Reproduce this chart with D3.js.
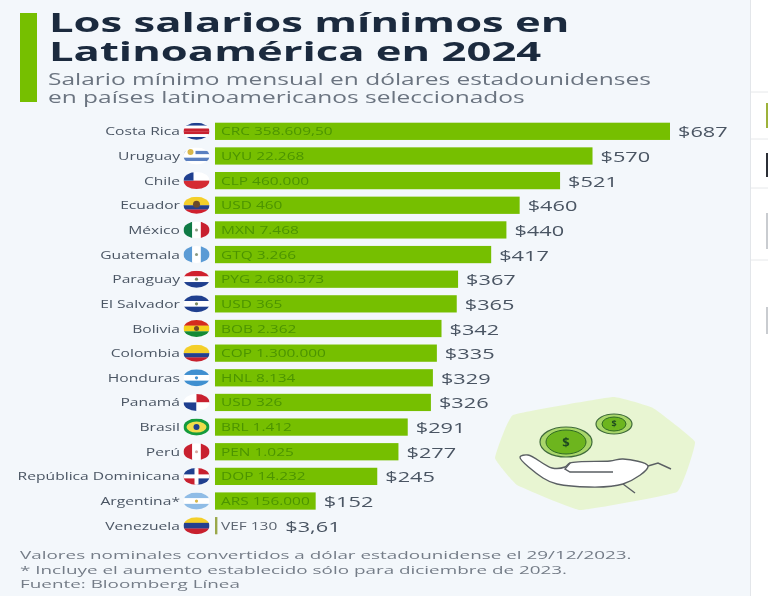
<!DOCTYPE html>
<html lang="es">
<head>
<meta charset="UTF-8">
<title>Los salarios mínimos en Latinoamérica en 2024</title>
<script src="https://d3js.org/d3.v7.min.js"></script>
<style>
  html, body { margin: 0; padding: 0; background: #f3f7fb; overflow: hidden; }
  svg { display: block; font-family: 'Open Sans', sans-serif; filter: blur(0.45px); }
</style>
</head>
<body>
<svg id="chart" width="768" height="596"></svg>
<script>
// --- Data ---
const countries = ["Costa Rica", "Uruguay", "Chile", "Ecuador", "México", "Guatemala", "Paraguay", "El Salvador", "Bolivia", "Colombia", "Honduras", "Panamá", "Brasil", "Perú", "República Dominicana", "Argentina*", "Venezuela"];
const salaries = [687, 570, 521, 460, 440, 417, 367, 365, 342, 335, 329, 326, 291, 277, 245, 152, 3.61];
const valueLabels = ["$687", "$570", "$521", "$460", "$440", "$417", "$367", "$365", "$342", "$335", "$329", "$326", "$291", "$277", "$245", "$152", "$3,61"];
const localPay = ["CRC 358.609,50", "UYU 22.268", "CLP 460.000", "USD 460", "MXN 7.468", "GTQ 3.266", "PYG 2.680.373", "USD 365", "BOB 2.362", "COP 1.300.000", "HNL 8.134", "USD 326", "BRL 1.412", "PEN 1.025", "DOP 14.232", "ARS 156.000", "VEF 130"];
const titleLines = ["Los salarios mínimos en", "Latinoamérica en 2024"];
const subtitleLines = ["Salario mínimo mensual en dólares estadounidenses", "en países latinoamericanos seleccionados"];
const notes = ["Valores nominales convertidos a dólar estadounidense el 29/12/2023.", "* Incluye el aumento establecido sólo para diciembre de 2023.", "Fuente: Bloomberg Línea"];

// --- Layout ---
const GREEN = "#76bf00";
const svg = d3.select("#chart");
const x = d3.scaleLinear().domain([0, 687]).range([215, 670]);
const y = d3.scaleBand().domain(countries).range([119, 538]).paddingInner(0.3).paddingOuter(0.15);

// the source image is stretched sideways, so every text gets its own horizontal scale
function wideText(parent, tx, ty, str, size, stretch, weight, fill, anchor) {
  return parent.append("text")
    .attr("transform", `translate(${tx},${ty}) scale(${stretch},1)`)
    .attr("font-size", size).attr("font-weight", weight)
    .attr("fill", fill).attr("text-anchor", anchor || "start")
    .text(str);
}

// side column of the page the chart was cropped from
svg.append("rect").attr("x", 751).attr("y", 0).attr("width", 17).attr("height", 596).attr("fill", "#ffffff");
svg.append("line").attr("x1", 750.5).attr("x2", 750.5).attr("y1", 0).attr("y2", 596).attr("stroke", "#e3e6ea");
[92, 139, 188, 260].forEach(d => svg.append("line").attr("x1", 751).attr("x2", 768).attr("y1", d).attr("y2", d).attr("stroke", "#e6e8ea"));
[[103, 25, "#9db23a"], [153, 24, "#2b2f36"], [213, 36, "#c9ccd0"], [307, 27, "#c9ccd0"]].forEach(d =>
  svg.append("rect").attr("x", 766).attr("y", d[0]).attr("width", 2).attr("height", d[1]).attr("fill", d[2]));

// --- Header ---
svg.append("rect").attr("x", 20).attr("y", 13).attr("width", 17).attr("height", 89).attr("fill", GREEN);
titleLines.forEach((t, i) => wideText(svg, 49, 32 + i * 29, t, 27, 1.615, 700, "#1b2a3e"));
subtitleLines.forEach((t, i) => wideText(svg, 48, 85 + i * 18, t, 15.5, 1.58, 400, "#6b7480"));

// --- Rows ---
const rows = svg.selectAll("g.row").data(countries).join("g").attr("class", "row");
const midY = d => y(d) + y.bandwidth() / 2;

rows.append("rect")
  .attr("x", x(0)).attr("y", d => y(d))
  .attr("width", (d, i) => x(salaries[i]) - x(0))
  .attr("height", y.bandwidth())
  .attr("fill", (d, i) => i === 16 ? "#9aa84a" : GREEN);

rows.each(function (d, i) {
  const g = d3.select(this);
  wideText(g, 180, midY(d) + 4, d, 10.5, 1.49, 400, "#4a5563", "end");
  const inner = wideText(g, 221, midY(d) + 4, localPay[i], 10, 1.545, 400, i === 16 ? "#5b6470" : "#4c9400");
  const innerEnd = 221 + inner.node().getBBox().width * 1.545;
  const labelX = Math.max(x(salaries[i]), innerEnd) + 8;
  wideText(g, labelX, midY(d) + 6, valueLabels[i], 14.5, 1.5, 400, "#4a5563");
});

// --- Flags: stripes across an ellipse, extras on top ---
const flagStripes = {
  "Costa Rica": ["#1f3f8f", "#fff", "#c8202f", "#c8202f", "#fff", "#1f3f8f"],
  "Uruguay": ["#fff", "#5a7fc0", "#fff", "#5a7fc0", "#fff"],
  "Chile": ["#fff", "#d52b32"],
  "Ecuador": ["#f4cf2a", "#f4cf2a", "#24408e", "#d0202e"],
  "Guatemala": [],
  "México": [],
  "Paraguay": ["#d0202e", "#fff", "#1f3f8f"],
  "El Salvador": ["#1f3f8f", "#fff", "#1f3f8f"],
  "Bolivia": ["#d52b1e", "#f4d11a", "#138a36"],
  "Colombia": ["#f4cf2a", "#f4cf2a", "#24408e", "#c8202e"],
  "Honduras": ["#3f8fd0", "#fff", "#3f8fd0"],
  "Panamá": [],
  "Brasil": ["#149b3c"],
  "Perú": [],
  "República Dominicana": [],
  "Argentina*": ["#8fbce6", "#fff", "#8fbce6"],
  "Venezuela": ["#f4cf2a", "#24408e", "#c8202e"]
};
const flagColumns = { "México": ["#0f7a45", "#fff", "#c8202f"], "Guatemala": ["#5b9bd5", "#fff", "#5b9bd5"], "Perú": ["#c8202f", "#fff", "#c8202f"] };
const flagQuarters = { "Panamá": ["#fff", "#c8202f", "#1f3f8f", "#fff"], "República Dominicana": ["#1f3f8f", "#c8202f", "#c8202f", "#1f3f8f"] };
const flagW = 26, flagH = 17, flagCx = 196.5;

const defs = svg.append("defs");
const flags = svg.selectAll("g.flag").data(countries).join("g").attr("class", "flag")
  .attr("transform", d => `translate(${flagCx},${midY(d)})`);
defs.append("clipPath").attr("id", "flag-clip").append("ellipse").attr("rx", flagW / 2).attr("ry", flagH / 2);

flags.each(function (name) {
  const g = d3.select(this).append("g").attr("clip-path", "url(#flag-clip)");
  const stripes = flagStripes[name], cols = flagColumns[name], quarters = flagQuarters[name];
  if (stripes.length) {
    const band = d3.scaleBand().domain(d3.range(stripes.length)).range([-flagH / 2, flagH / 2]);
    stripes.forEach((c, i) => g.append("rect").attr("x", -flagW / 2).attr("y", band(i)).attr("width", flagW).attr("height", band.bandwidth() + 0.2).attr("fill", c));
  }
  if (cols) {
    const band = d3.scaleBand().domain(d3.range(3)).range([-flagW / 2, flagW / 2]);
    cols.forEach((c, i) => g.append("rect").attr("x", band(i)).attr("y", -flagH / 2).attr("width", band.bandwidth() + 0.2).attr("height", flagH).attr("fill", c));
    g.append("circle").attr("r", 1.5).attr("fill", name === "Perú" ? "#d9a9a0" : "#8a9a80");
  }
  if (quarters) {
    [[-1, -1], [0, -1], [-1, 0], [0, 0]].forEach((q, i) => g.append("rect").attr("x", q[0] * flagW / 2).attr("y", q[1] * flagH / 2).attr("width", flagW / 2).attr("height", flagH / 2).attr("fill", quarters[i]));
    if (name === "República Dominicana") {
      g.append("rect").attr("x", -2).attr("y", -flagH / 2).attr("width", 4).attr("height", flagH).attr("fill", "#fff");
      g.append("rect").attr("x", -flagW / 2).attr("y", -2).attr("width", flagW).attr("height", 4).attr("fill", "#fff");
    }
  }
  if (name === "Chile") g.append("rect").attr("x", -13).attr("y", -8.5).attr("width", 10).attr("height", 8.5).attr("fill", "#1f3f8f");
  if (name === "Uruguay") { g.append("rect").attr("x", -13).attr("y", -8.5).attr("width", 12).attr("height", 8).attr("fill", "#fff"); g.append("circle").attr("cx", -6).attr("cy", -4).attr("r", 3).attr("fill", "#d9b84a"); }
  if (name === "Ecuador") g.append("circle").attr("cy", -1).attr("r", 3.5).attr("fill", "#6b4a2a");
  if (name === "Bolivia") g.append("circle").attr("r", 2.5).attr("fill", "#6b4a2a");
  if (name === "Brasil") { g.append("ellipse").attr("rx", 10).attr("ry", 5.5).attr("fill", "#f0dc4a"); g.append("circle").attr("r", 3).attr("fill", "#1f3f8f"); }
  if (name === "Honduras" || name === "Argentina*") g.append("circle").attr("r", 1.6).attr("fill", name === "Honduras" ? "#3f8fd0" : "#d9b84a");
  if (name === "Paraguay" || name === "El Salvador") g.append("circle").attr("r", 1.6).attr("fill", "#7a8a60");
});

// --- Notes ---
notes.forEach((t, i) => wideText(svg, 20, 559 + i * 14.6, t, 10.6, 1.78, 400, "#747c87"));

// --- Hand with coins ---
const blob = [[513, 415], [613, 397], [653, 408], [695, 442], [677, 492], [580, 510], [517, 485], [495, 458]];
const icon = svg.append("g");
icon.append("path").attr("d", d3.line().curve(d3.curveCardinalClosed.tension(0.75))(blob)).attr("fill", "#e8f5d2");
[[566, 442, 26, 15, "$", 13], [614, 424, 18, 10, "$", 9]].forEach(c => {
  icon.append("ellipse").attr("cx", c[0]).attr("cy", c[1]).attr("rx", c[2]).attr("ry", c[3]).attr("fill", "#a9d66a").attr("stroke", "#3f6b3a").attr("stroke-width", 1.2);
  icon.append("ellipse").attr("cx", c[0]).attr("cy", c[1]).attr("rx", c[2] - 6).attr("ry", c[3] - 3).attr("fill", "#6db51e").attr("stroke", "#2f6b22").attr("stroke-width", 1);
  icon.append("text").attr("x", c[0]).attr("y", c[1] + c[5] * 0.36).attr("text-anchor", "middle").attr("font-size", c[5]).attr("font-weight", 700).attr("fill", "#1f4a20").text(c[4]);
});
const handOutline = [[520, 457], [528, 455], [552, 468], [565, 467], [570, 463], [610, 461], [623, 459], [648, 466], [623, 484], [557, 484], [543, 478]];
const handLine = d3.line();
icon.append("path").attr("d", d3.line().curve(d3.curveCatmullRomClosed.alpha(0.5))(handOutline))
  .attr("fill", "#fff").attr("stroke", "#5a5f63").attr("stroke-width", 1.4).attr("stroke-linejoin", "round");
[[[570, 463], [565, 469], [570, 472], [613, 472]], [[648, 466], [658, 463], [671, 469]], [[623, 484], [635, 493]]].forEach(l =>
  icon.append("path").attr("d", handLine(l)).attr("fill", "none").attr("stroke", "#5a5f63").attr("stroke-width", 1.4));
</script>
</body>
</html>
